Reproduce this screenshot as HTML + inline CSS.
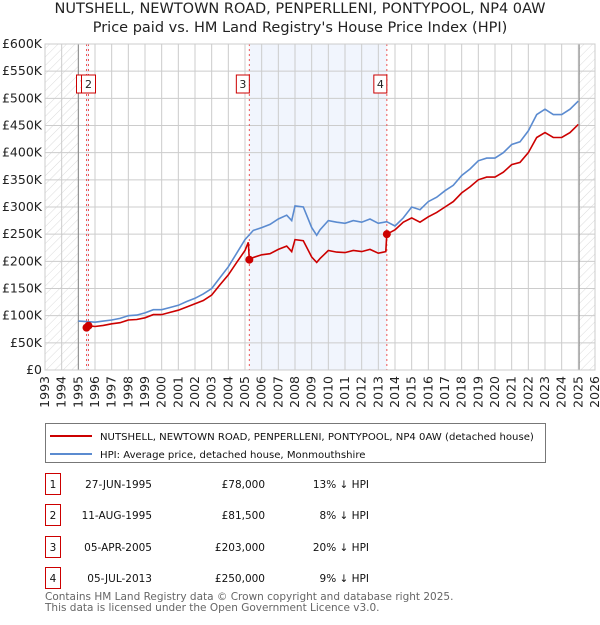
<!DOCTYPE html>
<html><head><meta charset="utf-8"><style>
body{margin:0;background:#fff;font-family:"Liberation Sans","DejaVu Sans",sans-serif;}
svg text{font-family:"DejaVu Sans","Liberation Sans",sans-serif;}
</style></head><body>
<svg id="c" width="600" height="620" xmlns="http://www.w3.org/2000/svg">
<defs><pattern id="hatch" width="6" height="6" patternUnits="userSpaceOnUse" patternTransform="rotate(45)"><line x1="0" y1="0" x2="0" y2="6" stroke="#ccc" stroke-width="0.7"/></pattern></defs>
<text x="300" y="13" text-anchor="middle" font-size="14.5" fill="#222">NUTSHELL, NEWTOWN ROAD, PENPERLLENI, PONTYPOOL, NP4 0AW</text>
<text x="300" y="32" text-anchor="middle" font-size="14.5" fill="#222">Price paid vs. HM Land Registry's House Price Index (HPI)</text>
<g id="plot"></g>
<g>
<rect x="45.5" y="423.5" width="500" height="39" fill="#fff" stroke="#777"/>
<line x1="50" y1="436" x2="92" y2="436" stroke="#cc0000" stroke-width="2"/>
<text x="100" y="440" font-size="10.1" fill="#111">NUTSHELL, NEWTOWN ROAD, PENPERLLENI, PONTYPOOL, NP4 0AW (detached house)</text>
<line x1="50" y1="454" x2="92" y2="454" stroke="#5b8bd0" stroke-width="2"/>
<text x="100" y="458" font-size="10.1" fill="#111">HPI: Average price, detached house, Monmouthshire</text>
</g>
<g id="table" font-size="10.5" fill="#111"></g>
<text x="45" y="600" font-size="10.5" fill="#666">Contains HM Land Registry data © Crown copyright and database right 2025.</text>
<text x="45" y="611" font-size="10.5" fill="#666">This data is licensed under the Open Government Licence v3.0.</text>
</svg>
<script>
const hpiYears=[1995,1995.5,1996,1996.5,1997,1997.5,1998,1998.5,1999,1999.5,2000,2000.5,2001,2001.5,2002,2002.5,2003,2003.5,2004,2004.5,2005,2005.5,2006,2006.5,2007,2007.5,2007.8,2008,2008.5,2009,2009.3,2009.5,2010,2010.5,2011,2011.5,2012,2012.5,2013,2013.5,2014,2014.5,2015,2015.5,2016,2016.5,2017,2017.5,2018,2018.5,2019,2019.5,2020,2020.5,2021,2021.5,2022,2022.5,2023,2023.5,2024,2024.5,2025];
const hpiValues=[90,89,88,90,92,95,100,101,105,111,111,115,119,126,132,140,150,170,190,215,240,257,262,268,278,285,275,302,300,262,248,258,275,272,270,275,272,278,270,273,265,280,300,295,310,318,330,340,358,370,385,390,390,400,415,420,440,470,480,470,470,480,495];
const redYears=[1995.49,1995.61,1996,1996.5,1997,1997.5,1998,1998.5,1999,1999.5,2000,2000.5,2001,2001.5,2002,2002.5,2003,2003.5,2004,2004.5,2005,2005.2,2005.26,2005.5,2006,2006.5,2007,2007.5,2007.8,2008,2008.5,2009,2009.3,2009.5,2010,2010.5,2011,2011.5,2012,2012.5,2013,2013.45,2013.51,2014,2014.5,2015,2015.5,2016,2016.5,2017,2017.5,2018,2018.5,2019,2019.5,2020,2020.5,2021,2021.5,2022,2022.5,2023,2023.5,2024,2024.5,2025];
const redValues=[78,81.5,80,82,85,87,92,93,96,102,102,106,110,116,122,128,138,157,175,198,220,235,203,207,212,214,222,228,218,240,238,208,198,205,220,217,216,220,218,222,215,218,250,258,272,280,272,282,290,300,310,326,337,350,355,355,364,378,382,400,428,437,428,428,437,452];
const saleNums=["1","2","3","4"];
const saleYears=[1995.49,1995.61,2005.26,2013.51];
const salePrices=[78,81.5,203,250];
const saleDates=["27-JUN-1995","11-AUG-1995","05-APR-2005","05-JUL-2013"];
const salePriceLabels=["£78,000","£81,500","£203,000","£250,000"];
const saleHpi=["13% ↓ HPI","8% ↓ HPI","20% ↓ HPI","9% ↓ HPI"];
const yTicks=[0,50,100,150,200,250,300,350,400,450,500,550,600];
const yTickLabels=["£0","£50K","£100K","£150K","£200K","£250K","£300K","£350K","£400K","£450K","£500K","£550K","£600K"];
const xTicks=[1993,1994,1995,1996,1997,1998,1999,2000,2001,2002,2003,2004,2005,2006,2007,2008,2009,2010,2011,2012,2013,2014,2015,2016,2017,2018,2019,2020,2021,2022,2023,2024,2025,2026];
const L=45,R=595,T=44,B=370;
const X=y=>L+(y-1993)/33*(R-L), Y=v=>B-v/600*(B-T);
const NS="http://www.w3.org/2000/svg";
const g=document.getElementById('plot');
function mk(tag,at,parent){const e=document.createElementNS(NS,tag);for(const k in at)e.setAttribute(k,at[k]);(parent||g).appendChild(e);return e;}
let e;
e=mk('rect',{x:L,y:T,width:R-L,height:B-T,fill:'#fff'});


e=mk('rect',{x:X(saleYears[2]),y:T,width:X(saleYears[3])-X(saleYears[2]),height:B-T,fill:'#eef3fc',opacity:0.8});


e=mk('rect',{x:X(saleYears[0]),y:T,width:X(saleYears[1])-X(saleYears[0]),height:B-T,fill:'#eef3fc'});


e=mk('rect',{x:L,y:T,width:X(1995)-L,height:B-T,fill:'url(#hatch)'});


e=mk('rect',{x:X(2025.05),y:T,width:R-X(2025.05),height:B-T,fill:'url(#hatch)'});


yTicks.forEach((v,i)=>{
 e=mk('line',{x1:L,x2:R,y1:Y(v),y2:Y(v),stroke:'#ccc','stroke-width':1});
 
 
 e=mk('text',{x:L-3,y:Y(v)+4,'text-anchor':'end','font-size':12.5,fill:'#222'});
 e.textContent=yTickLabels[i];
 
 
});
xTicks.forEach(yr=>{
 e=mk('line',{x1:X(yr),x2:X(yr),y1:T,y2:B,stroke:'#ccc','stroke-width':1});
 
 
 e=mk('text',{x:0,y:0,'font-size':12.5,fill:'#222','text-anchor':'end',transform:`translate(${X(yr)+4},${B+6}) rotate(-90)`});
 e.textContent=yr;
 
 
});
[1995,2025.05].forEach(yr=>{
 e=mk('line',{x1:X(yr),x2:X(yr),y1:T,y2:B,stroke:'#888','stroke-width':1});
 
 
});
saleYears.forEach((yr,i)=>{
 e=mk('line',{x1:X(yr),x2:X(yr),y1:T,y2:B,stroke:'#e55','stroke-width':1,'stroke-dasharray':'2,3'});
 
 
});
function path(xs,vs){return xs.map((x,i)=>(i?'L':'M')+X(x).toFixed(1)+','+Y(vs[i]).toFixed(1)).join('');}
e=mk('path',{d:path(hpiYears,hpiValues),fill:'none',stroke:'#5b8bd0','stroke-width':1.6});


e=mk('path',{d:path(redYears,redValues),fill:'none',stroke:'#cc0000','stroke-width':1.6});


saleYears.forEach((yr,i)=>{
 e=mk('circle',{cx:X(yr),cy:Y(salePrices[i]),r:4,fill:'#cc0000'});
 
 
 const bx = i==0 ? X(yr)-10 : i==1 ? X(yr)-7 : X(yr)-13;
 e=mk('rect',{x:bx,y:75,width:i==1?14:13,height:18,fill:'#fff',stroke:'#cc0000','stroke-width':1});
 
 
 e=mk('text',{x:bx+(i==1?7:6.5),y:88,'text-anchor':'middle','font-size':11,fill:'#222'});
 e.textContent=saleNums[i];
 
 
});
e=mk('rect',{x:L,y:T,width:R-L,height:B-T,fill:'none',stroke:'#ccc'});


const tb=document.getElementById('table');
const rowsY=[483,514,546,577];
saleNums.forEach((n,i)=>{
 const y=rowsY[i];
 e=mk('rect',{x:45.5,y:y-9.5,width:15,height:21,fill:'#fff',stroke:'#cc0000'},tb);
 
 
 e=mk('text',{x:53,y:y+5,'text-anchor':'middle'},tb);e.textContent=n;
 
 
 e=mk('text',{x:152,y:y+5,'text-anchor':'end'},tb);e.textContent=saleDates[i];
 
 
 e=mk('text',{x:265,y:y+5,'text-anchor':'end'},tb);e.textContent=salePriceLabels[i];
 
 
 e=mk('text',{x:369,y:y+5,'text-anchor':'end'},tb);e.textContent=saleHpi[i];
 
 
});
</script>
</body></html>
